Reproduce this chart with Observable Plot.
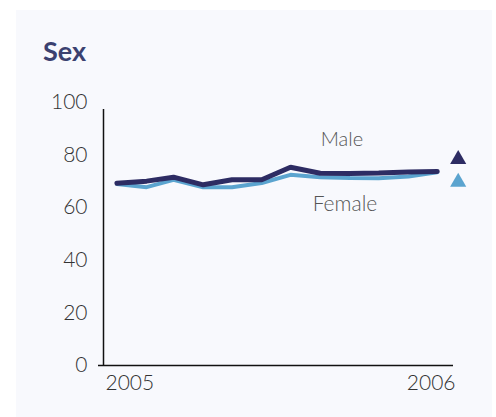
<!DOCTYPE html>
<html>
<head>
<meta charset="utf-8">
<script src="https://cdn.jsdelivr.net/npm/d3@7"></script>
<script src="https://cdn.jsdelivr.net/npm/@observablehq/plot@0.6"></script>
<style>
  html, body { margin: 0; padding: 0; background: #ffffff; }
  #panel { position: absolute; left: 16px; top: 10px; width: 476px; height: 407px; background: #f8f9fd; overflow: hidden; }
  #title { position: absolute; left: 27px; top: 27px; font: 700 27px/27px Lato, "Open Sans", sans-serif; color: #3b4170; }
  #chart { position: absolute; left: 0; top: 70px; }
</style>
</head>
<body>
<div id="panel">
  <div id="title">Sex</div>
  <div id="chart"></div>
</div>
<script>
// ---- data ----
const months = ["2005-01-15","2005-02-15","2005-03-15","2005-04-15","2005-05-15","2005-06-15",
                "2005-07-15","2005-08-15","2005-09-15","2005-10-15","2005-11-15","2005-12-15"];
const maleValues   = [69.3, 70.1, 71.6, 68.7, 70.6, 70.6, 75.4, 73.1, 73.0, 73.2, 73.6, 73.8];
const femaleValues = [69.0, 67.8, 70.6, 67.8, 67.8, 69.4, 72.5, 71.6, 71.3, 71.2, 71.9, 73.5];
const seriesNames = ["Male", "Female"];
const seriesColors = ["#2d2c63", "#5ba4cf"];
const yTicks = [0, 20, 40, 60, 80, 100];
const xDomain = ["2005-01-01", "2006-01-01"];
const xTickLabels = ["2005", "2006"];

const parse = d3.utcParse("%Y-%m-%d");
const male = months.map((m, i) => ({date: parse(m), value: maleValues[i]}));
const female = months.map((m, i) => ({date: parse(m), value: femaleValues[i]}));
const xd = xDomain.map(parse);
const lastMale = male[male.length - 1];
const lastFemale = female[female.length - 1];
const labelIdx = 8;

const font = "Lato, 'Open Sans', sans-serif";

const chart = Plot.plot({
  width: 476,
  height: 337,
  marginLeft: 87,
  marginRight: 39,
  marginTop: 22,
  marginBottom: 52,
  style: { background: "transparent", fontFamily: font, fontSize: "21px", color: "#333" },
  x: { type: "utc", domain: xd },
  y: { domain: [0, 100] },
  marks: [
    Plot.axisY({ ticks: yTicks, tickSize: 0, tickPadding: 16, fontSize: 21, fontWeight: 300, fill: "#333", label: null }),
    Plot.axisX({ ticks: [xd[0]], tickSize: 0, tickPadding: 10, textAnchor: "start", dx: 2, fontSize: 21, fontWeight: 300, fill: "#333", label: null, tickFormat: () => xTickLabels[0] }),
    Plot.axisX({ ticks: [xd[1]], tickSize: 0, tickPadding: 10, textAnchor: "end", dx: 2, fontSize: 21, fontWeight: 300, fill: "#333", label: null, tickFormat: () => xTickLabels[1] }),
    Plot.ruleY([0], { x1: xd[0], x2: xd[1], stroke: "#111", strokeWidth: 1.5, insetLeft: -5 }),
    Plot.ruleX([xd[0]], { y1: 0, y2: 100, stroke: "#111", strokeWidth: 1.5, insetBottom: -7 }),
    Plot.line(female, { x: "date", y: "value", stroke: seriesColors[1], strokeWidth: 4, strokeLinejoin: "miter", strokeLinecap: "round" }),
    Plot.line(male, { x: "date", y: "value", stroke: seriesColors[0], strokeWidth: 5, strokeLinejoin: "miter", strokeLinecap: "round" }),
    Plot.text([male[labelIdx]], { x: "date", y: "value", text: () => seriesNames[0], dx: -8, dy: -34, fontSize: 20, fontWeight: 300, fill: "#555" }),
    Plot.text([female[labelIdx]], { x: "date", y: "value", text: () => seriesNames[1], dx: -5, dy: 26, fontSize: 21, fontWeight: 300, fill: "#555" }),
    Plot.dot([lastMale], { x: "date", y: "value", symbol: "triangle", r: 6, fill: seriesColors[0], dx: 21, dy: -12 }),
    Plot.dot([lastFemale], { x: "date", y: "value", symbol: "triangle", r: 6, fill: seriesColors[1], dx: 21, dy: 10 })
  ]
});
document.getElementById("chart").appendChild(chart);
</script>
</body>
</html>
